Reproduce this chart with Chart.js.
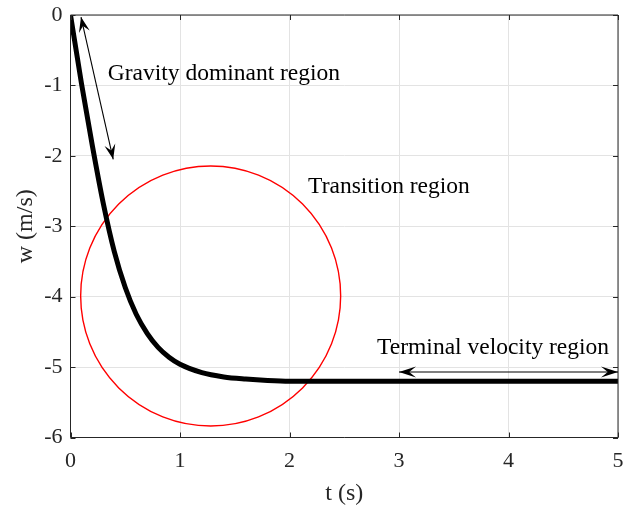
<!DOCTYPE html>
<html>
<head>
<meta charset="utf-8">
<script src="https://cdn.jsdelivr.net/npm/chart.js@4.4.0/dist/chart.umd.min.js"></script>
<style>
    html, body { margin: 0; padding: 0; background: #fff; }
</style>
</head>
<body>
<canvas id="grafica" width="624" height="506"></canvas>
<script>
// valores
const tiempos = [0, 0.1, 0.2, 0.3, 0.4, 0.5, 0.6, 0.7, 0.8, 0.9, 1.0, 1.2, 1.4, 1.6, 1.8, 2.0, 2.5, 3, 4, 5];
const velocidades = [0, -0.97, -1.86, -2.68, -3.36, -3.87, -4.25, -4.52, -4.72, -4.86, -4.96, -5.08, -5.14, -5.17, -5.19, -5.2, -5.2, -5.2, -5.2, -5.2];
const ticksX = [0, 1, 2, 3, 4, 5];
const ticksY = [0, -1, -2, -3, -4, -5, -6];

// centro del circulo de transicion (t, w)
const centroTransicion = [1.28, -3.99];

// flechas: [t1, w1, t2, w2]
const flechaGravedad = [0.096, -0.03, 0.39, -2.05];
const flechaTerminal = [3.0, -5.07, 5.0, -5.07];

// textos: etiqueta, t, w (borde izquierdo, centro vertical)
const textos = ['Gravity dominant region', 'Transition region', 'Terminal velocity region'];
const textosT = [0.34, 2.17, 2.8];
const textosW = [-0.83, -2.44, -4.72];

const FUENTE = "'Times New Roman', 'Liberation Serif', serif";
const GRIS_EJE = '#262626';

function puntaFlecha(ctx, x, y, angulo, largo, ancho) {
    ctx.save();
    ctx.translate(x, y);
    ctx.rotate(angulo);
    ctx.beginPath();
    ctx.moveTo(0, 0);
    ctx.lineTo(-largo, -ancho);
    ctx.lineTo(-largo * 0.6, 0);
    ctx.lineTo(-largo, ancho);
    ctx.closePath();
    ctx.fill();
    ctx.restore();
}

function dibujarFlecha(ctx, sx, sy, f, largo, ancho) {
    const x1 = sx.getPixelForValue(f[0]), y1 = sy.getPixelForValue(f[1]);
    const x2 = sx.getPixelForValue(f[2]), y2 = sy.getPixelForValue(f[3]);
    const ang = Math.atan2(y2 - y1, x2 - x1);
    ctx.beginPath();
    ctx.moveTo(x1, y1);
    ctx.lineTo(x2, y2);
    ctx.stroke();
    puntaFlecha(ctx, x2, y2, ang, largo, ancho);
    puntaFlecha(ctx, x1, y1, ang + Math.PI, largo, ancho);
}

const pluginAnotaciones = {
    id: 'anotaciones',
    afterDatasetsDraw(chart) {
        const { ctx, chartArea: a, scales } = chart;
        const sx = scales.x, sy = scales.y;

        // caja y marcas hacia adentro
        ctx.save();
        ctx.strokeStyle = GRIS_EJE;
        ctx.lineWidth = 1;
        ctx.beginPath();
        ctx.rect(a.left, a.top, a.right - a.left, a.bottom - a.top);
        ctx.stroke();
        ctx.beginPath();
        ticksX.forEach(v => {
            const px = Math.round(sx.getPixelForValue(v)) + 0.5;
            ctx.moveTo(px, a.bottom); ctx.lineTo(px, a.bottom - 5);
            ctx.moveTo(px, a.top); ctx.lineTo(px, a.top + 5);
        });
        ticksY.forEach(v => {
            const py = Math.round(sy.getPixelForValue(v)) + 0.5;
            ctx.moveTo(a.left, py); ctx.lineTo(a.left + 5, py);
            ctx.moveTo(a.right, py); ctx.lineTo(a.right - 5, py);
        });
        ctx.stroke();

        // flechas
        ctx.strokeStyle = '#000';
        ctx.fillStyle = '#000';
        ctx.lineWidth = 1.1;
        dibujarFlecha(ctx, sx, sy, flechaGravedad, 15, 5.5);
        dibujarFlecha(ctx, sx, sy, flechaTerminal, 17, 5.5);

        // textos
        ctx.font = `23.5px ${FUENTE}`;
        ctx.fillStyle = '#000';
        ctx.textAlign = 'left';
        ctx.textBaseline = 'middle';
        textos.forEach((txt, i) => {
            ctx.fillText(txt, sx.getPixelForValue(textosT[i]), sy.getPixelForValue(textosW[i]));
        });
        ctx.restore();
    }
};

new Chart(document.getElementById('grafica'), {
    type: 'scatter',
    data: {
        datasets: [
            {
                type: 'line',
                data: tiempos.map((t, i) => ({ x: t, y: velocidades[i] })),
                borderColor: '#000',
                borderWidth: 5,
                pointRadius: 0,
                cubicInterpolationMode: 'monotone',
                fill: false
            },
            {
                type: 'bubble',
                data: [{ x: centroTransicion[0], y: centroTransicion[1] }],
                radius: 130,
                borderColor: '#ff0000',
                borderWidth: 1.4,
                backgroundColor: 'rgba(0,0,0,0)',
                hoverRadius: 0
            }
        ]
    },
    options: {
        responsive: false,
        animation: false,
        events: [],
        layout: { autoPadding: false, padding: { top: 15, right: 6, left: 0, bottom: 0 } },
        plugins: { legend: { display: false }, tooltip: { enabled: false } },
        scales: {
            x: {
                type: 'linear',
                min: 0, max: 5,
                afterFit: s => { s.height = 68.5; s.paddingLeft = 0; s.paddingRight = 0; },
                afterBuildTicks: s => { s.ticks = ticksX.map(v => ({ value: v })); },
                grid: { color: '#e3e3e3', drawTicks: false },
                border: { display: false },
                ticks: { padding: 11, color: GRIS_EJE, font: { family: FUENTE, size: 22 } },
                title: { display: true, text: 't (s)', color: GRIS_EJE, padding: { top: 0, bottom: 0 }, font: { family: FUENTE, size: 24, lineHeight: 1 } }
            },
            y: {
                type: 'linear',
                min: -6, max: 0,
                afterFit: s => { s.width = 70.5; s.paddingTop = 0; s.paddingBottom = 0; },
                afterBuildTicks: s => { s.ticks = ticksY.map(v => ({ value: v })); },
                grid: { color: '#e3e3e3', drawTicks: false },
                border: { display: false },
                ticks: { padding: 8, color: GRIS_EJE, font: { family: FUENTE, size: 22 } },
                title: { display: true, text: 'w (m/s)', color: GRIS_EJE, padding: { top: 14, bottom: 0 }, font: { family: FUENTE, size: 24, lineHeight: 1 } }
            }
        }
    },
    plugins: [pluginAnotaciones]
});
</script>
</body>
</html>
